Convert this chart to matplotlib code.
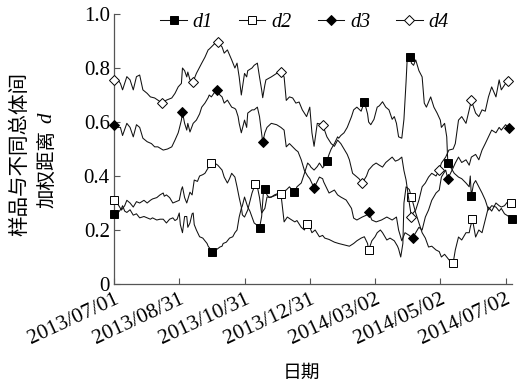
import numpy as np
import matplotlib
matplotlib.use("Agg")
import matplotlib.pyplot as plt
from matplotlib.transforms import ScaledTranslation

start = np.datetime64("2013-07-01")

days_d1 = [0,4,7,8,10,12,15,18,21,24,28,31,34,36,40,43,46,49,52,55,57,59,61,62,64,66,68,69,71,73,74,75,77,80,83,85,87,88,90,92,94,96,99,101,102,105,108,111,113,115,117,119,120,122,125,127,129,131,133,136,138,140,141,143,145,147,150,153,156,159,161,164,166,168,170,171,175,178,181,183,184,187,190,192,195,197,199,201,203,206,209,210,212,215,218,220,222,224,227,231,234,237,238,240,243,246,248,251,254,257,260,262,264,266,269,271,273,274,277,278,280,282,285,288,290,292,296,299,302,305,306,309,311,312,315,318,322,325,329,332,333,334,336,338,341,344,347,350,353,357,360,362,365,369,372]
d1 = [0.26,0.265,0.28,0.29,0.27,0.265,0.275,0.255,0.26,0.245,0.25,0.245,0.24,0.245,0.237,0.24,0.24,0.226,0.24,0.245,0.235,0.24,0.263,0.22,0.19,0.25,0.25,0.21,0.226,0.26,0.263,0.22,0.2,0.175,0.17,0.16,0.15,0.14,0.13,0.12,0.125,0.128,0.137,0.14,0.15,0.155,0.17,0.175,0.19,0.2,0.248,0.28,0.29,0.322,0.285,0.27,0.248,0.226,0.22,0.207,0.25,0.36,0.352,0.33,0.32,0.322,0.33,0.335,0.34,0.345,0.348,0.36,0.35,0.34,0.35,0.36,0.374,0.41,0.448,0.44,0.433,0.422,0.435,0.448,0.43,0.44,0.456,0.48,0.5,0.52,0.545,0.54,0.55,0.56,0.58,0.6,0.62,0.645,0.655,0.64,0.675,0.63,0.6,0.59,0.61,0.655,0.66,0.675,0.655,0.645,0.61,0.62,0.595,0.545,0.54,0.61,0.75,0.83,0.84,0.818,0.81,0.83,0.79,0.767,0.67,0.655,0.693,0.655,0.633,0.607,0.58,0.595,0.545,0.45,0.43,0.41,0.396,0.39,0.374,0.36,0.4,0.326,0.37,0.383,0.36,0.337,0.311,0.274,0.29,0.285,0.27,0.28,0.26,0.25,0.24]

days_d2 = [0,4,7,10,12,15,18,21,24,28,31,34,36,40,43,46,47,49,52,55,58,61,63,64,66,68,71,73,75,78,80,83,85,88,89,91,94,97,101,103,106,108,110,113,115,117,119,120,122,125,129,132,134,136,138,141,143,147,152,156,157,159,162,165,169,171,175,178,180,183,185,188,192,195,197,201,206,210,215,220,224,227,231,234,237,238,241,244,246,249,251,255,258,262,265,266,268,270,271,273,276,278,282,285,288,291,294,297,301,304,306,309,313,317,319,322,325,329,332,333,335,338,341,344,347,350,353,357,360,362,365,369,371]
d2 = [0.31,0.293,0.274,0.29,0.31,0.3,0.285,0.305,0.3,0.31,0.3,0.31,0.315,0.32,0.33,0.337,0.325,0.33,0.32,0.3,0.305,0.31,0.35,0.36,0.32,0.3,0.34,0.33,0.385,0.38,0.4,0.405,0.41,0.43,0.44,0.448,0.448,0.44,0.422,0.396,0.374,0.39,0.41,0.396,0.36,0.32,0.285,0.256,0.248,0.274,0.337,0.37,0.36,0.32,0.263,0.28,0.322,0.322,0.33,0.333,0.3,0.23,0.248,0.24,0.23,0.235,0.21,0.2,0.222,0.21,0.19,0.2,0.175,0.18,0.17,0.165,0.155,0.15,0.145,0.14,0.15,0.16,0.17,0.175,0.15,0.125,0.16,0.175,0.19,0.2,0.19,0.163,0.17,0.16,0.14,0.13,0.1,0.15,0.3,0.36,0.35,0.322,0.263,0.226,0.19,0.17,0.137,0.14,0.126,0.12,0.1,0.11,0.09,0.078,0.126,0.174,0.163,0.19,0.19,0.21,0.24,0.174,0.2,0.19,0.237,0.285,0.27,0.3,0.29,0.285,0.29,0.31,0.3]

days_d3 = [0,3,6,8,12,15,18,21,24,27,31,35,38,41,46,50,54,57,60,61,63,64,66,68,69,71,74,77,80,82,85,88,89,91,94,96,99,101,103,106,110,113,114,116,117,119,122,124,125,129,131,134,136,139,141,143,147,152,156,159,161,164,167,170,172,175,178,181,183,187,190,192,195,196,201,206,209,212,217,222,224,227,232,236,238,241,245,250,255,260,264,266,269,272,276,279,282,285,288,291,294,297,301,304,306,310,312,316,319,322,325,329,332,334,338,341,344,347,350,353,357,360,362,366,369]
d3 = [0.59,0.58,0.58,0.55,0.595,0.58,0.545,0.59,0.58,0.54,0.527,0.52,0.508,0.508,0.496,0.5,0.508,0.533,0.56,0.575,0.607,0.636,0.595,0.57,0.595,0.563,0.595,0.607,0.63,0.655,0.67,0.69,0.7,0.693,0.71,0.72,0.7,0.693,0.67,0.681,0.655,0.65,0.645,0.62,0.595,0.56,0.607,0.58,0.633,0.645,0.645,0.655,0.62,0.525,0.56,0.58,0.595,0.59,0.58,0.57,0.508,0.52,0.508,0.496,0.49,0.46,0.42,0.4,0.39,0.356,0.38,0.396,0.39,0.378,0.337,0.348,0.33,0.322,0.311,0.28,0.244,0.237,0.248,0.255,0.267,0.237,0.23,0.237,0.248,0.237,0.248,0.2,0.16,0.19,0.18,0.17,0.19,0.21,0.2,0.248,0.274,0.31,0.337,0.348,0.396,0.422,0.39,0.422,0.448,0.47,0.45,0.46,0.44,0.47,0.48,0.46,0.496,0.52,0.545,0.57,0.56,0.58,0.57,0.59,0.578]

days_d4 = [0,3,6,8,12,15,18,21,24,27,31,34,38,41,45,49,54,57,60,63,64,66,68,69,71,74,77,82,85,88,89,91,94,97,101,103,106,110,113,115,117,119,122,124,125,129,131,134,136,138,139,141,142,147,152,156,159,161,164,167,170,173,176,180,183,185,187,190,195,199,203,206,209,212,215,218,220,223,226,229,232,236,238,242,245,248,251,254,257,260,263,266,269,271,273,276,278,279,282,285,288,291,294,297,301,304,306,310,313,317,319,322,325,329,332,334,338,341,344,347,350,353,357,360,362,366,368]
d4 = [0.755,0.76,0.743,0.719,0.768,0.756,0.719,0.768,0.774,0.719,0.706,0.693,0.689,0.681,0.67,0.681,0.689,0.706,0.73,0.743,0.8,0.79,0.767,0.785,0.756,0.75,0.78,0.818,0.84,0.867,0.87,0.878,0.89,0.896,0.878,0.855,0.867,0.83,0.8,0.818,0.767,0.7,0.78,0.767,0.79,0.8,0.81,0.818,0.767,0.719,0.69,0.737,0.756,0.767,0.78,0.785,0.767,0.68,0.693,0.689,0.67,0.674,0.645,0.62,0.655,0.56,0.51,0.595,0.59,0.545,0.52,0.51,0.533,0.52,0.5,0.48,0.46,0.41,0.4,0.39,0.374,0.4,0.422,0.44,0.448,0.44,0.433,0.45,0.46,0.47,0.455,0.46,0.47,0.42,0.385,0.3,0.248,0.26,0.274,0.311,0.36,0.374,0.396,0.41,0.4,0.422,0.448,0.47,0.496,0.5,0.52,0.607,0.62,0.595,0.645,0.68,0.633,0.62,0.645,0.64,0.693,0.73,0.693,0.756,0.719,0.743,0.752]

marker_days_d1 = [0,92,136,141,168,199,234,277,312,334,372]
marker_days_d2 = [0,91,132,156,180,238,278,317,335,371]
marker_days_d3 = [0,64,96,139,187,238,279,312,369]
marker_days_d4 = [0,45,74,97,156,195,232,278,304,334,368]

series_names = ["d1", "d2", "d3", "d4"]
tick_dates = ["2013-07-01", "2013-08-31", "2013-10-31", "2013-12-31",
              "2014-03-02", "2014-05-02", "2014-07-02"]
tick_labels = ["2013/07/01", "2013/08/31", "2013/10/31", "2013/12/31",
               "2014/03/02", "2014/05/02", "2014/07/02"]
y_ticks = [0, 0.2, 0.4, 0.6, 0.8, 1.0]
y_tick_labels = ["0", "0.2", "0.4", "0.6", "0.8", "1.0"]

serif = "Liberation Serif"
cjk = ["Noto Sans CJK SC", "DejaVu Sans"]

W, H = 518, 385
fig = plt.figure(figsize=(W / 100, H / 100), dpi=100)
ax = fig.add_axes([114 / W, 1 - 284 / H, (512 - 114) / W, 270 / H])

styles = [
    dict(marker="s", mfc="black", mec="black"),
    dict(marker="s", mfc="white", mec="black"),
    dict(marker="D", mfc="black", mec="black"),
    dict(marker="D", mfc="white", mec="black"),
]
all_days = [days_d1, days_d2, days_d3, days_d4]
all_vals = [d1, d2, d3, d4]
all_marks = [marker_days_d1, marker_days_d2, marker_days_d3, marker_days_d4]
sizes = [6.0, 6.0, 5.0, 5.0]

for dd, vv, mk, st, nm, ms in zip(all_days, all_vals, all_marks, styles, series_names, sizes):
    x = start + np.array(dd).astype("timedelta64[D]")
    idx = [dd.index(m) for m in mk]
    ax.plot(x, vv, color="#111111", lw=0.75, markevery=idx, ms=ms, mew=0.7,
            label=nm, zorder=3, clip_on=False, **st)

ax.set_xlim(start, start + np.timedelta64(372, "D"))
ax.set_ylim(0, 1.0)
ax.set_xticks([np.datetime64(d) for d in tick_dates])
ax.set_xticklabels(tick_labels, rotation=25, ha="right", rotation_mode="anchor",
                   fontfamily=serif, fontsize=15.5)
shift = ScaledTranslation(6 / 100, 0, fig.dpi_scale_trans)
for lab in ax.get_xticklabels():
    lab.set_transform(lab.get_transform() + shift)
ax.set_yticks(y_ticks)
ax.set_yticklabels(y_tick_labels, fontfamily=serif, fontsize=15)
ax.tick_params(axis="both", direction="in", length=4, width=0.8, color="#555555")
ax.tick_params(axis="x", pad=4)
ax.tick_params(axis="y", pad=3)
for s in ["top", "right"]:
    ax.spines[s].set_visible(False)
for s in ["left", "bottom"]:
    ax.spines[s].set_color("#555555")
    ax.spines[s].set_linewidth(0.9)

leg = ax.legend(loc="center", bbox_to_anchor=(0.479, 0.97), ncol=4, frameon=False,
                prop=dict(family=serif, style="italic", size=14.5), handlelength=1.3,
                handletextpad=0.3, columnspacing=1.3, borderaxespad=0, borderpad=0)

fig.text(301 / W, 1 - 372 / H, "日期", family=cjk, fontsize=13.5, ha="center", va="center")
fig.text(19 / W, 1 - 154 / H, "样品与不同总体间", family=cjk, fontsize=14.8,
         rotation=90, ha="center", va="center")
fig.text(47 / W, 1 - 169 / H, "加权距离", family=cjk, fontsize=14,
         rotation=90, ha="center", va="center")
fig.text(47 / W, 1 - 118 / H, "d", family=serif, style="italic", fontsize=15,
         rotation=90, ha="center", va="center")

fig.savefig("out.png", dpi=100)
